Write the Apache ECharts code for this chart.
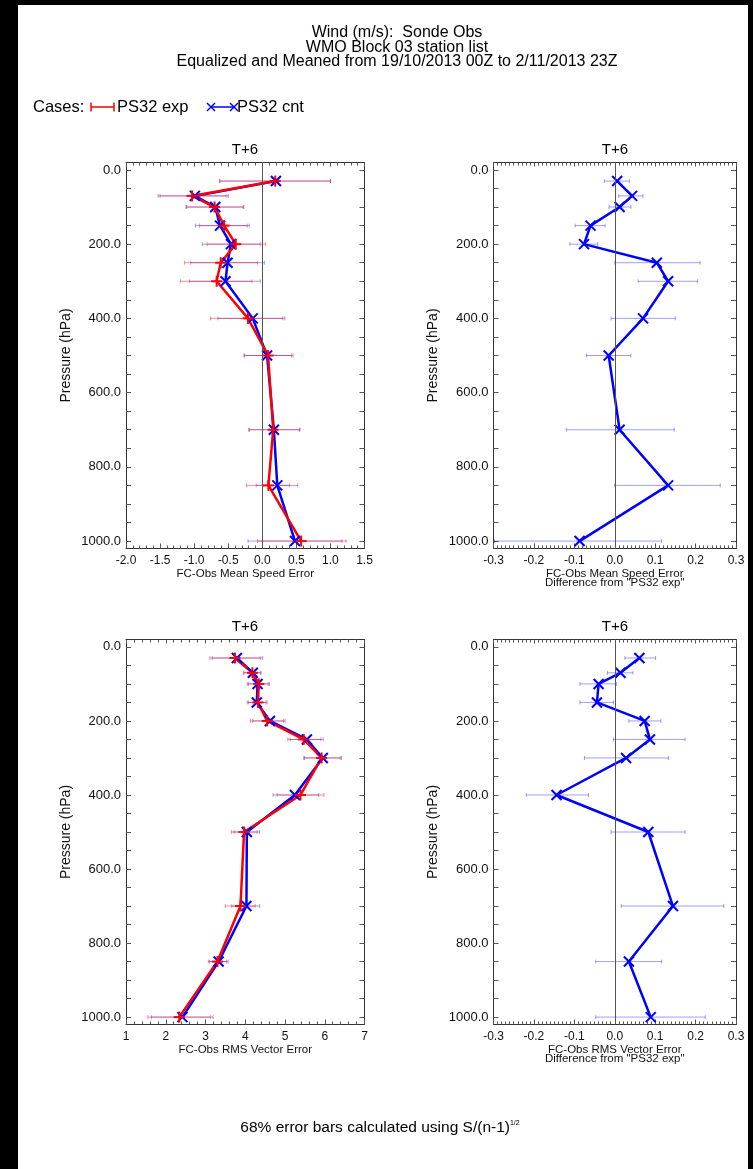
<!DOCTYPE html>
<html>
<head>
<meta charset="utf-8">
<script src="https://cdn.jsdelivr.net/npm/echarts@6/dist/echarts.min.js"></script>
<style>
  html, body { margin: 0; padding: 0; background: #000; }
  #paper { position: absolute; left: 18px; top: 5px; width: 730px; height: 1164px; background: #fff; }
  #main { position: absolute; left: 0; top: 0; width: 753px; height: 1169px; }
</style>
</head>
<body>
<div id="paper"></div>
<div id="main"></div>
<script>
var myChart = echarts.init(document.getElementById('main'));

var FONT = "'Liberation Sans', Arial, Helvetica, sans-serif";

// pressure levels (hPa)
var levels = [30, 70, 100, 150, 200, 250, 300, 400, 500, 700, 850, 1000];
var tickLevels = [0, 50, 100, 150, 200, 250, 300, 350, 400, 450, 500, 550, 600, 650, 700, 750, 800, 850, 900, 950, 1000];
var labelLevels = [0, 200, 400, 600, 800, 1000];

// FC-Obs mean speed error
var meanExp   = [0.19, -1.03, -0.70, -0.56, -0.39, -0.61, -0.67, -0.21, 0.085, 0.16, 0.09, 0.57];
var meanExpLo = [-0.63, -1.53, -1.12, -0.92, -0.81, -1.14, -1.20, -0.76, -0.26, -0.20, -0.23, -0.07];
var meanExpHi = [1.00, -0.53, -0.28, -0.22, 0.05, -0.07, -0.15, 0.30, 0.45, 0.55, 0.40, 1.23];
var meanCnt   = [0.20, -0.99, -0.69, -0.62, -0.46, -0.51, -0.54, -0.14, 0.07, 0.17, 0.22, 0.48];
var meanCntLo = [-0.62, -1.50, -1.11, -0.98, -0.88, -1.05, -1.07, -0.65, -0.27, -0.19, -0.09, -0.21];
var meanCntHi = [1.00, -0.50, -0.27, -0.19, -0.03, 0.03, -0.03, 0.33, 0.43, 0.55, 0.52, 1.17];

// mean speed error, difference from "PS32 exp"
var meanDiff   = [0.006, 0.043, 0.012, -0.060, -0.076, 0.104, 0.132, 0.070, -0.015, 0.012, 0.132, -0.087];
var meanDiffLo = [-0.026, 0.010, -0.014, -0.098, -0.111, 0.000, 0.058, -0.009, -0.070, -0.120, 0.000, -0.298];
var meanDiffHi = [0.036, 0.070, 0.040, -0.024, -0.042, 0.211, 0.205, 0.150, 0.040, 0.147, 0.261, 0.116];

// FC-Obs RMS vector error
var rmsExp   = [3.74, 4.18, 4.34, 4.32, 4.55, 5.47, 5.92, 5.39, 3.97, 3.88, 3.30, 2.34];
var rmsExpLo = [3.11, 3.95, 4.08, 4.08, 4.13, 5.07, 5.47, 4.80, 3.65, 3.50, 3.07, 1.55];
var rmsExpHi = [4.38, 4.38, 4.61, 4.55, 4.96, 5.90, 6.39, 5.98, 4.30, 4.25, 3.53, 3.12];
var rmsCnt   = [3.79, 4.19, 4.31, 4.29, 4.62, 5.55, 5.95, 5.25, 4.04, 4.03, 3.33, 2.42];
var rmsCntLo = [3.17, 3.97, 4.05, 4.05, 4.19, 5.13, 5.49, 4.70, 3.72, 3.66, 3.10, 1.64];
var rmsCntHi = [4.44, 4.40, 4.58, 4.52, 5.00, 5.96, 6.42, 5.85, 4.36, 4.36, 3.57, 3.19];

// RMS vector error, difference from "PS32 exp"
var rmsDiff   = [0.061, 0.014, -0.040, -0.044, 0.074, 0.087, 0.028, -0.144, 0.083, 0.144, 0.035, 0.089];
var rmsDiffLo = [0.025, -0.018, -0.086, -0.086, 0.035, -0.003, -0.075, -0.219, -0.009, 0.016, -0.047, -0.047];
var rmsDiffHi = [0.101, 0.045, 0.004, -0.003, 0.114, 0.174, 0.133, -0.065, 0.174, 0.270, 0.116, 0.224];

var RED = '#ff0000';
var BLUE = '#0000ff';
var RED_BAR = 'rgba(255,0,0,0.45)';
var BLUE_BAR = 'rgba(0,0,255,0.38)';

function pairs(xs) {
    return levels.map(function (p, i) { return [xs[i], p]; });
}
function bars(lo, hi) {
    return levels.map(function (p, i) { return [lo[i], hi[i], p]; });
}

function errorBarItem(color) {
    return function (params, api) {
        var p = api.value(2);
        var a = api.coord([api.value(0), p]);
        var b = api.coord([api.value(1), p]);
        var h = 2;
        var style = { stroke: color, lineWidth: 1 };
        return {
            type: 'group',
            children: [
                { type: 'line', shape: { x1: a[0], y1: a[1], x2: b[0], y2: b[1] }, style: style },
                { type: 'line', shape: { x1: a[0], y1: a[1] - h, x2: a[0], y2: a[1] + h }, style: style },
                { type: 'line', shape: { x1: b[0], y1: b[1] - h, x2: b[0], y2: b[1] + h }, style: style }
            ]
        };
    };
}

function markerItem(kind, color) {
    return function (params, api) {
        var c = api.coord([api.value(0), api.value(1)]);
        var r = kind === 'x' ? 5 : 5.5;
        var segs = kind === 'x'
            ? [[-r, -r, r, r], [-r, r, r, -r]]
            : [[-r, 0, r, 0], [0, -r, 0, r]];
        return {
            type: 'group',
            children: segs.map(function (s) {
                return {
                    type: 'line',
                    shape: { x1: c[0] + s[0], y1: c[1] + s[1], x2: c[0] + s[2], y2: c[1] + s[3] },
                    style: { stroke: color, lineWidth: 2 }
                };
            })
        };
    };
}

var grids = [
    { left: 126, top: 162.5, width: 238.5, height: 386 },
    { left: 493.5, top: 162.5, width: 242.5, height: 386 },
    { left: 126, top: 639.5, width: 238.5, height: 385 },
    { left: 493.5, top: 639.5, width: 242.5, height: 385 }
];

var panels = [
    { min: -2, max: 1.5, interval: 0.5, minor: 5, digits: 1, name: 'FC-Obs Mean Speed Error', gap: 18 },
    { min: -0.3, max: 0.3, interval: 0.1, minor: 10, digits: 1, name: 'FC-Obs Mean Speed Error\nDifference from "PS32 exp"', gap: 19 },
    { min: 1, max: 7, interval: 1, minor: 5, digits: 0, name: 'FC-Obs RMS Vector Error', gap: 18 },
    { min: -0.3, max: 0.3, interval: 0.1, minor: 10, digits: 1, name: 'FC-Obs RMS Vector Error\nDifference from "PS32 exp"', gap: 19 }
];

var frameLine = { show: true, onZero: false, lineStyle: { color: '#333', width: 1 } };
var tickStyle = { color: '#555', width: 1 };

var xAxes = [];
var yAxes = [];
panels.forEach(function (pn, i) {
    xAxes.push({
        type: 'value', gridIndex: i, position: 'bottom',
        min: pn.min, max: pn.max, interval: pn.interval,
        name: pn.name, nameLocation: 'middle', nameGap: pn.gap,
        nameTextStyle: { fontFamily: FONT, fontSize: 11.5, color: '#111', lineHeight: 9 },
        axisLine: frameLine,
        axisTick: { show: true, inside: true, length: 5, lineStyle: tickStyle },
        minorTick: { show: true, splitNumber: pn.minor, length: 3, lineStyle: tickStyle },
        axisLabel: {
            margin: 6, fontFamily: FONT, fontSize: 12, color: '#111',
            formatter: function (v) { return Math.abs(v) < 1e-9 ? (0).toFixed(pn.digits) : v.toFixed(pn.digits); }
        },
        splitLine: { show: false }
    });
    xAxes.push({
        type: 'value', gridIndex: i, position: 'top',
        min: pn.min, max: pn.max, interval: pn.interval,
        axisLine: frameLine,
        axisTick: { show: true, inside: true, length: 4, lineStyle: tickStyle },
        minorTick: { show: true, splitNumber: pn.minor, length: 3, lineStyle: tickStyle },
        axisLabel: { show: false },
        splitLine: { show: false }
    });
    yAxes.push({
        type: 'value', gridIndex: i, position: 'left', inverse: true,
        min: -20, max: 1020,
        name: 'Pressure (hPa)', nameLocation: 'middle', nameGap: 53,
        nameTextStyle: { fontFamily: FONT, fontSize: 14, color: '#111' },
        axisLine: frameLine,
        axisTick: { show: true, inside: true, length: 5, customValues: tickLevels, lineStyle: tickStyle },
        axisLabel: {
            margin: 5, fontFamily: FONT, fontSize: 13, color: '#111',
            customValues: labelLevels,
            formatter: function (v) { return v.toFixed(1); }
        },
        splitLine: { show: false }
    });
    yAxes.push({
        type: 'value', gridIndex: i, position: 'right', inverse: true,
        min: -20, max: 1020,
        axisLine: frameLine,
        axisTick: { show: true, inside: true, length: 5, customValues: tickLevels, lineStyle: tickStyle },
        axisLabel: { show: false },
        splitLine: { show: false }
    });
});

var zeroLine = {
    silent: true,
    symbol: ['none', 'none'],
    label: { show: false },
    lineStyle: { color: '#555', width: 1, type: 'solid' },
    data: [{ xAxis: 0 }]
};

function errSeries(i, lo, hi, color) {
    return {
        type: 'custom', xAxisIndex: 2 * i, yAxisIndex: 2 * i,
        renderItem: errorBarItem(color),
        encode: { x: [0, 1], y: 2 },
        data: bars(lo, hi), z: 1
    };
}
function lineSeries(i, xs, color, withZero) {
    var s = {
        type: 'line', xAxisIndex: 2 * i, yAxisIndex: 2 * i,
        data: pairs(xs), showSymbol: false,
        lineStyle: { color: color, width: 2.5 },
        itemStyle: { color: color },
        z: 3
    };
    if (withZero) { s.markLine = zeroLine; }
    return s;
}
function markSeries(i, xs, kind, color) {
    return {
        type: 'custom', xAxisIndex: 2 * i, yAxisIndex: 2 * i,
        renderItem: markerItem(kind, color),
        encode: { x: 0, y: 1 },
        data: pairs(xs), z: 4
    };
}

var series = [
    // T+6 mean speed error
    errSeries(0, meanCntLo, meanCntHi, BLUE_BAR),
    errSeries(0, meanExpLo, meanExpHi, RED_BAR),
    lineSeries(0, meanCnt, BLUE, true),
    markSeries(0, meanCnt, 'x', BLUE),
    lineSeries(0, meanExp, RED, false),
    markSeries(0, meanExp, '+', RED),
    // difference
    errSeries(1, meanDiffLo, meanDiffHi, BLUE_BAR),
    lineSeries(1, meanDiff, BLUE, true),
    markSeries(1, meanDiff, 'x', BLUE),
    // RMS vector error
    errSeries(2, rmsCntLo, rmsCntHi, BLUE_BAR),
    errSeries(2, rmsExpLo, rmsExpHi, RED_BAR),
    lineSeries(2, rmsCnt, BLUE, false),
    markSeries(2, rmsCnt, 'x', BLUE),
    lineSeries(2, rmsExp, RED, false),
    markSeries(2, rmsExp, '+', RED),
    // difference
    errSeries(3, rmsDiffLo, rmsDiffHi, BLUE_BAR),
    lineSeries(3, rmsDiff, BLUE, true),
    markSeries(3, rmsDiff, 'x', BLUE)
];

function txt(x, y, s, size, align) {
    return {
        type: 'text', x: x, y: y,
        style: { text: s, fontFamily: FONT, fontSize: size, fill: '#000', align: align || 'center', verticalAlign: 'middle' }
    };
}
function seg(x1, y1, x2, y2, color, w) {
    return { type: 'line', shape: { x1: x1, y1: y1, x2: x2, y2: y2 }, style: { stroke: color, lineWidth: w } };
}

var graphics = [
    txt(397, 32.5, 'Wind (m/s):  Sonde Obs', 16),
    txt(397, 47.5, 'WMO Block 03 station list', 16),
    txt(397, 62, 'Equalized and Meaned from 19/10/2013 00Z to 2/11/2013 23Z', 16),
    txt(33, 107, 'Cases:', 16.5, 'left'),
    seg(91, 107, 114, 107, RED, 1.5),
    seg(91, 102.5, 91, 111.5, RED, 1.5),
    seg(114, 102.5, 114, 111.5, RED, 1.5),
    txt(117, 107, 'PS32 exp', 16.5, 'left'),
    seg(211, 107, 234, 107, BLUE, 1.5),
    seg(207, 103, 215, 111, BLUE, 1.5),
    seg(207, 111, 215, 103, BLUE, 1.5),
    seg(230, 103, 238, 111, BLUE, 1.5),
    seg(230, 111, 238, 103, BLUE, 1.5),
    txt(237, 107, 'PS32 cnt', 16.5, 'left'),
    txt(245, 150, 'T+6', 15),
    txt(615, 150, 'T+6', 15),
    txt(245, 627, 'T+6', 15),
    txt(615, 627, 'T+6', 15),
    {
        type: 'text', x: 380, y: 1128,
        style: {
            text: '{a|68% error bars calculated using S/(n-1)}{b|1/2}',
            align: 'center', verticalAlign: 'middle',
            rich: {
                a: { fontFamily: FONT, fontSize: 15.5, fill: '#000', color: '#000' },
                b: { fontFamily: FONT, fontSize: 7, fill: '#000', color: '#000', verticalAlign: 'top', padding: [0, 0, 8, 0] }
            }
        }
    }
];

var option = {
    backgroundColor: 'transparent',
    animation: false,
    grid: grids,
    xAxis: xAxes,
    yAxis: yAxes,
    series: series,
    graphic: graphics
};

myChart.setOption(option);
</script>
</body>
</html>
